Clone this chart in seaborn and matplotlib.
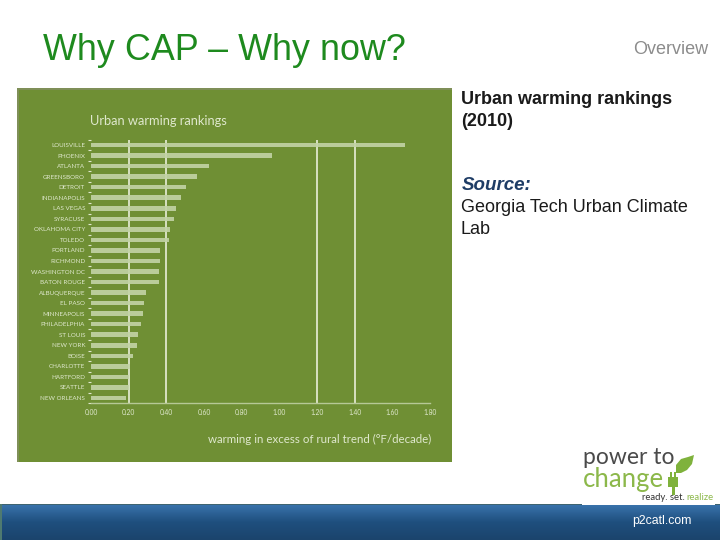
import numpy as np
import pandas as pd
import matplotlib
matplotlib.use("Agg")
import matplotlib.pyplot as plt
from matplotlib.patches import Rectangle, Polygon
import seaborn as sns

cities = ["LOUISVILLE", "PHOENIX", "ATLANTA", "GREENSBORO", "DETROIT", "INDIANAPOLIS",
          "LAS VEGAS", "SYRACUSE", "OKLAHOMA CITY", "TOLEDO", "PORTLAND", "RICHMOND",
          "WASHINGTON DC", "BATON ROUGE", "ALBUQUERQUE", "EL PASO", "MINNEAPOLIS",
          "PHILADELPHIA", "ST LOUIS", "NEW YORK", "BOISE", "CHARLOTTE", "HARTFORD",
          "SEATTLE", "NEW ORLEANS"]
warming = [1.667, 0.96, 0.628, 0.561, 0.505, 0.478, 0.453, 0.439, 0.42, 0.412, 0.365, 0.365,
           0.36, 0.36, 0.292, 0.281, 0.276, 0.267, 0.25, 0.244, 0.221, 0.207, 0.202, 0.20, 0.186]
x_ticks = [0.0, 0.2, 0.4, 0.6, 0.8, 1.0, 1.2, 1.4, 1.6, 1.8]
x_tick_labels = ["0.00", "0.20", "0.40", "0.60", "0.80", "1.00", "1.20", "1.40", "1.60", "1.80"]
grid_lines = [0.2, 0.4, 1.2, 1.4]

sns.set_theme(style="white")
plt.rcParams["font.family"] = ["Liberation Sans", "DejaVu Sans"]
W, H = 720, 540
fig = plt.figure(figsize=(7.2, 5.4), dpi=100, facecolor="white")

# slide layer in pixel coordinates
bg = fig.add_axes([0, 0, 1, 1], zorder=0)
bg.set_xlim(0, W); bg.set_ylim(H, 0); bg.axis("off")
PANEL = "#6f8f34"
bg.add_patch(Rectangle((17, 88), 435, 374, color=PANEL, lw=0))
bg.add_patch(Rectangle((17, 88), 435, 1.5, color="#7f8f58", lw=0))
bg.add_patch(Rectangle((17, 88), 1.5, 374, color="#7f8f58", lw=0))
gradient = np.linspace(0, 1, 64).reshape(-1, 1)
cmap = matplotlib.colors.LinearSegmentedColormap.from_list("foot", ["#3a74ad", "#1f4f7e", "#1b446c"])
bg.imshow(gradient, extent=(0, W, 540, 504), aspect="auto", cmap=cmap, zorder=1)
bg.set_xlim(0, W); bg.set_ylim(H, 0)
bg.add_patch(Rectangle((0, 503.5), W, 1.2, color="#3f6470", lw=0, zorder=2))
bg.add_patch(Rectangle((0, 504), 1.5, 36, color="#4f7a70", lw=0, zorder=2))
bg.add_patch(Rectangle((582, 500), 133, 4.5, color="white", lw=0, zorder=3))

bg.text(43, 51, "Why CAP – Why now?", color="#1e8a1e", fontsize=25.8, va="center", ha="left")
bg.text(708, 50, "Overview", color="#8c8c8c", fontsize=13, va="center", ha="right")
bg.text(461, 99, "Urban warming rankings", color="#1a1a1a", fontsize=13, va="center", weight="bold")
bg.text(461, 121, "(2010)", color="#1a1a1a", fontsize=13, va="center", weight="bold")
bg.text(462, 185, "Source:", color="#1f3d66", fontsize=13.5, va="center", style="italic", weight="bold")
bg.text(461, 207, "Georgia Tech Urban Climate", color="#1a1a1a", fontsize=13, va="center")
bg.text(461, 229, "Lab", color="#1a1a1a", fontsize=13, va="center")

# logo
bg.text(583, 458, "power to", color="#4a4a4a", fontsize=16.5, va="center", family="Lato")
bg.text(583, 480, "change", color="#8cb84a", fontsize=18.5, va="center", family="Lato")
bg.add_patch(Polygon([(676, 473), (676, 465), (681, 459), (688, 457), (694, 455),
                      (692, 464), (687, 470), (681, 473)],
                     closed=True, color="#7fb23c", lw=0))
bg.add_patch(Rectangle((668, 477), 10, 10, color="#7fb23c", lw=0))
bg.add_patch(Rectangle((670, 472), 2, 5, color="#7fb23c", lw=0))
bg.add_patch(Rectangle((674, 472), 2, 5, color="#7fb23c", lw=0))
bg.add_patch(Rectangle((671.5, 487), 3, 8, color="#7fb23c", lw=0))
bg.text(642, 497, "ready. set.", color="#333333", fontsize=6.8, va="center", family="Lato")
bg.text(686, 497, "realize", color="#8cb84a", fontsize=6.8, va="center", family="Lato")
bg.text(632, 521, "p2catl.com", color="white", fontsize=8.8, va="center", zorder=4)

# chart
LIGHT = "#dfe8cd"
ax = fig.add_axes([91 / W, 1 - 403.3 / H, (430 - 91) / W, (403.3 - 139.7) / H], zorder=2)
ax.patch.set_alpha(0)
df = pd.DataFrame({"city": cities, "warming": warming})
ax.vlines(grid_lines, -0.47, 24.5, color="#f4f7e8", lw=1.1, zorder=1)
sns.barplot(data=df, y="city", x="warming", orient="h", color="#c3d3a6", saturation=1,
            width=0.43, ax=ax, zorder=3, alpha=0.9, linewidth=0, edgecolor="none")
ax.set_xlim(0, 1.8)
ax.set_ylim(24.5, -0.47)
ax.set_xlabel(""); ax.set_ylabel("")
ax.set_xticks(x_ticks, x_tick_labels)
ax.tick_params(axis="x", length=0, pad=4, labelsize=4.8, labelcolor=LIGHT)
for lab in ax.get_xticklabels():
    lab.set_family("Lato")
ax.tick_params(axis="y", which="major", length=0, pad=4.3, labelsize=4.5, labelcolor=LIGHT)
for lab in ax.get_yticklabels():
    lab.set_family("Lato")
ax.set_yticks(np.arange(-0.5, 25, 1), minor=True)
ax.tick_params(axis="y", which="minor", left=True, length=2.5, width=0.8, color=LIGHT)
for side in ("top", "right"):
    ax.spines[side].set_visible(False)
ax.spines["left"].set_visible(False)
ax.spines["bottom"].set_color("#b6c896")
ax.spines["bottom"].set_linewidth(1)
ax.grid(False)

bg.text(90, 121, "Urban warming rankings", color="#dfe8cd", fontsize=9.3, va="center", family="Lato")
bg.text(208, 439, "warming in excess of rural trend (°F/decade)", color="#dfe8cd", fontsize=8.3,
        va="center", family="Lato")

fig.savefig("out.png", dpi=100)
